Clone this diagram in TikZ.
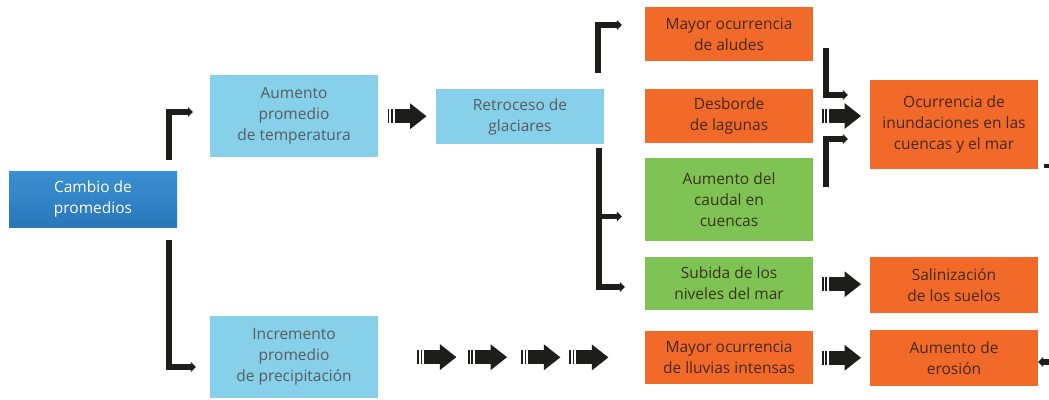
\documentclass[tikz,border=0pt]{standalone}
\usepackage{fontspec}
\setmainfont{Open Sans}
\usetikzlibrary{arrows.meta,calc}

\definecolor{deepblue}{HTML}{2E82C4}
\definecolor{deepbluetop}{HTML}{3A90D2}
\definecolor{deepbluebot}{HTML}{2877B9}
\definecolor{skyblue}{HTML}{86D0E9}
\definecolor{flame}{HTML}{F26A2A}
\definecolor{leaf}{HTML}{7FC354}
\definecolor{ink}{HTML}{1D1D1B}
\definecolor{greytext}{HTML}{585C5F}
\definecolor{browntext}{HTML}{45281A}
\definecolor{olivetext}{HTML}{3A3318}

\tikzset{
  box/.style = {rectangle, minimum width = 168pt, align = center,
    inner sep = 0pt, font = \fontsize{15.5}{21}\selectfont},
  rootbox/.style = {box, top color = deepbluetop, bottom color = deepbluebot,
    text = white},
  causebox/.style = {box, fill = skyblue, text = greytext},
  effectbox/.style = {box, fill = flame, text = browntext},
  waterbox/.style = {box, fill = leaf, text = olivetext},
  bent/.style = {draw = ink, line width = 5.5pt,
    -{Triangle[length=5pt,width=10pt]}},
  fatarrow/.pic = {
    \fill[ink] (-19.5,-7) rectangle (-17.7,7);
    \fill[ink] (-16.2,-7) rectangle (-14.4,7);
    \fill[ink] (-12.5,-7) rectangle (3.5,7);
    \fill[ink] (3,-13) -- (19.5,0) -- (3,13) -- cycle;
  }
}

\begin{document}
\begin{tikzpicture}[x = 1pt, y = -1pt]

    \useasboundingbox (0,0) rectangle (1049,399);

    \node[rootbox, minimum height = 56pt] (cambio) at (93,199)
      {Cambio de\\promedios};

    \node[causebox, minimum height = 82pt] (temp) at (294,116)
      {Aumento\\promedio\\de temperatura};
    \node[causebox, minimum height = 82pt] (precip) at (294,357)
      {Incremento\\promedio\\de precipitación};
    \node[causebox, minimum height = 55pt] (glaciar) at (520,116.5)
      {Retroceso de\\glaciares};

    \node[effectbox, minimum height = 54pt] (aludes) at (729,34)
      {Mayor ocurrencia\\de aludes};
    \node[effectbox, minimum height = 54pt] (lagunas) at (729,116)
      {Desborde\\de lagunas};
    \node[waterbox, minimum height = 83pt] (caudal) at (729,199.5)
      {Aumento del\\caudal en\\cuencas};
    \node[waterbox, minimum height = 53pt] (mar) at (729,283.5)
      {Subida de los\\niveles del mar};
    \node[effectbox, minimum height = 53pt] (lluvias) at (729,357.5)
      {Mayor ocurrencia\\de lluvias intensas};

    \node[effectbox, minimum height = 89pt] (inund) at (954,124.5)
      {Ocurrencia de\\inundaciones en las\\cuencas y el mar};
    \node[effectbox, minimum height = 56pt] (salin) at (954,285)
      {Salinización\\de los suelos};
    \node[effectbox, minimum height = 56pt] (erosion) at (954,358)
      {Aumento de\\erosión};


      \draw[bent] ([xshift=-8pt,yshift=11pt]cambio.north east)
        |- ([xshift=-17pt,yshift=4pt]temp.west);
      \draw[bent] ([xshift=-8pt,yshift=-13pt]cambio.south east)
        |- ([xshift=-14pt,yshift=-10pt]precip.west);

      \draw[bent] ([xshift=-6pt,yshift=16pt]glaciar.north east)
        |- ([xshift=-23pt,yshift=9pt]aludes.west);
      \draw[bent] ([xshift=-5pt,yshift=-4pt]glaciar.south east)
        |- ([xshift=-23pt,yshift=-17pt]caudal.west);
      \draw[bent] ([xshift=-5pt,yshift=-4pt]glaciar.south east)
        |- ([xshift=-20pt,yshift=-3.5pt]mar.west);

      \draw[bent] ([xshift=13pt,yshift=13pt]aludes.south east)
        |- ([xshift=-22pt,yshift=29.5pt]inund.west);
      \draw[bent] ([xshift=13pt,yshift=12.5pt]caudal.east)
        |- ([xshift=-22pt,yshift=-14.5pt]inund.west);

      \draw[ink, line width = 4pt] ([xshift=6pt,yshift=3pt]inund.south east)
        -- ([xshift=11pt,yshift=3pt]inund.south east);
      \draw[bent] ([xshift=11pt,yshift=-4pt]erosion.east)
        -- ([yshift=-4pt]erosion.east);


      \pic at ($(temp.east)!0.5!(glaciar.west)$) {fatarrow};
      \pic at ($(lagunas.east)!0.5!(inund.west |- lagunas.east)$) {fatarrow};
      \pic at ($(mar.east)!0.5!(salin.west)$) {fatarrow};
      \pic at ($(lluvias.east)!0.5!(erosion.west)$) {fatarrow};

      \foreach \f in {0.22, 0.41, 0.61, 0.79}
        \pic at ($(precip.east)!\f!(lluvias.west)$) {fatarrow};
  \end{tikzpicture}
\end{document}
